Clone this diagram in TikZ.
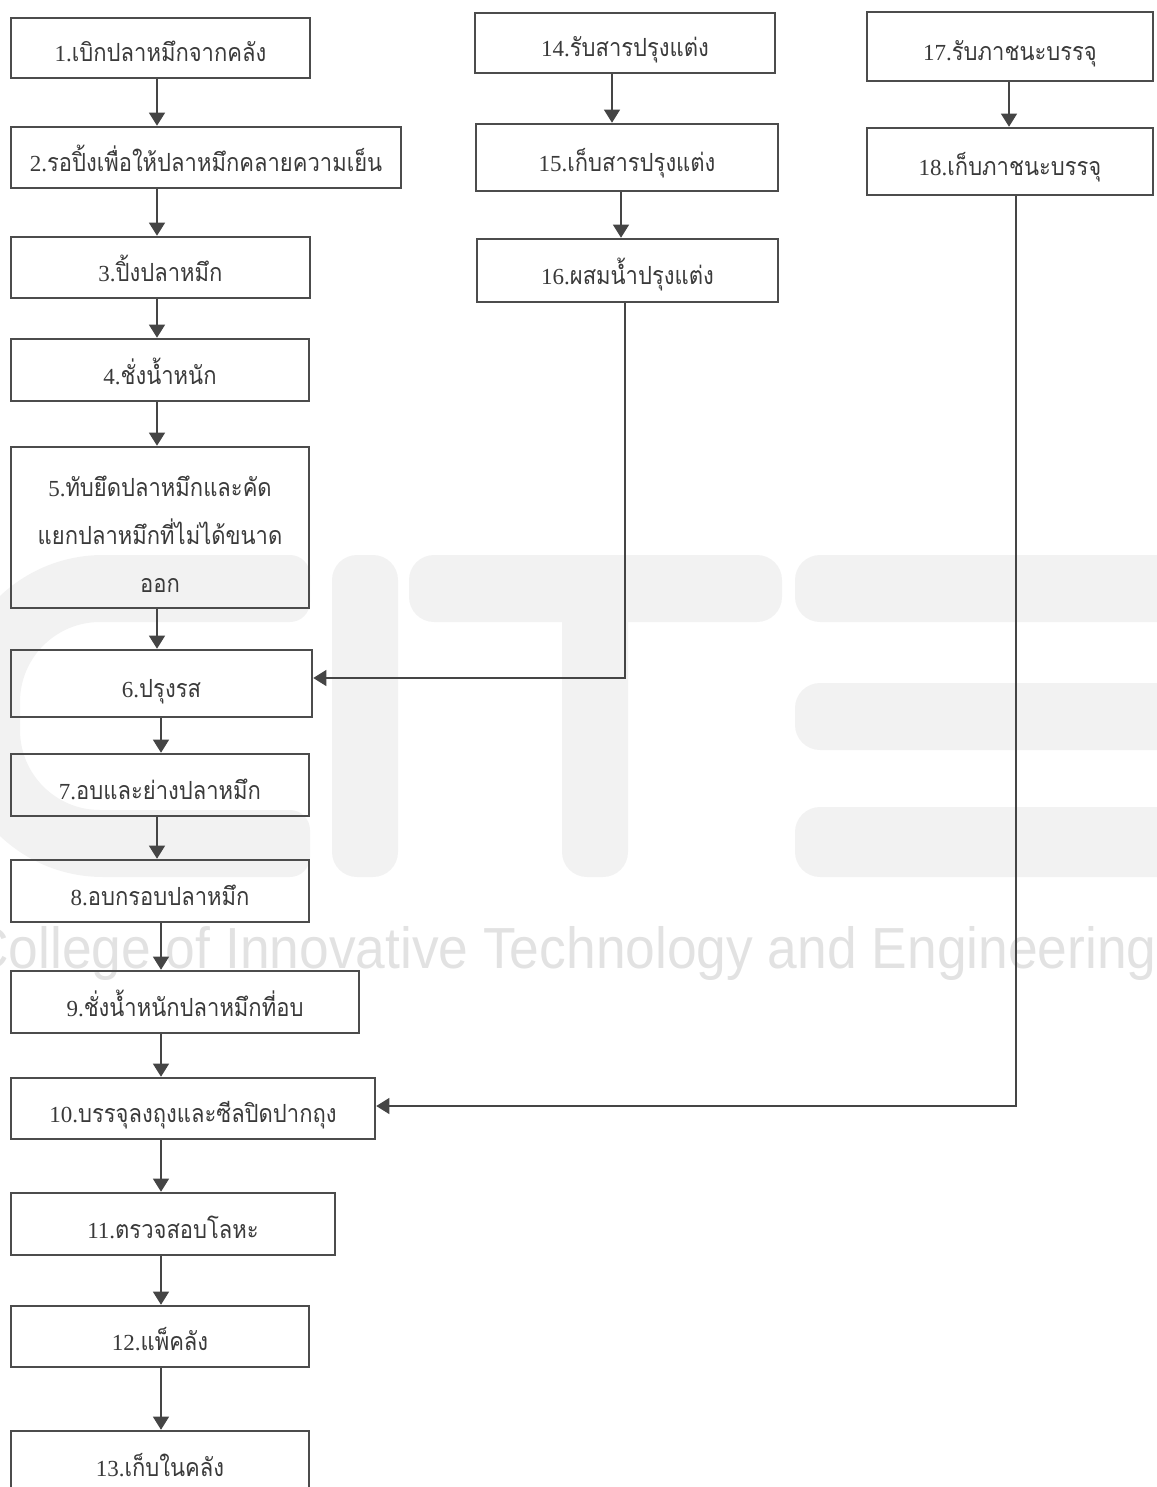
\documentclass[tikz,border=0pt]{standalone}
\usepackage{fontspec}
\setmainfont{Liberation Serif}
\newfontfamily\thaifont[Script=Thai, FakeStretch=0.88]{Loma}
\newfontfamily\wmfont[FakeStretch=0.92]{Liberation Sans}
\usetikzlibrary{arrows.meta}
\definecolor{boxgray}{HTML}{4C4C4C}
\definecolor{inkgray}{HTML}{3A3A3A}
\definecolor{arrowgray}{HTML}{454545}
\definecolor{logogray}{HTML}{F2F2F2}
\definecolor{wmgray}{HTML}{E2E2E2}
\newcommand\steplabel[2]{{\fontsize{23}{26}\selectfont #1}{\thaifont\fontsize{25}{26}\selectfont #2}}
\newcommand\thline[1]{{\thaifont\fontsize{25}{26}\selectfont #1}}

\begin{document}
\begin{tikzpicture}[x=1pt,y=-1pt,
  flow/.style={draw=boxgray, line width=2.6pt, inner sep=0pt, text=inkgray,
               align=center, font=\fontsize{23}{26}\selectfont},
  oneline/.style={flow, text height=28pt, text depth=0pt},
  arr/.style={draw=arrowgray, line width=1.1pt, -{Triangle[width=16pt,length=13pt]}}]
\useasboundingbox (0,0) rectangle (1156,1487);

% background logo: C I T E
\fill[logogray] (310,555) [rounded corners=150pt] -- (-47,555) -- (-47,877)
  [rounded corners=20pt] -- (310,877) -- (310,810)
  [rounded corners=80pt] -- (20,810) -- (20,622)
  [rounded corners=20pt] -- (310,622) -- cycle;
\fill[logogray, rounded corners=25pt] (332,555) rectangle (398,877);
\fill[logogray, rounded corners=25pt] (409,555) rectangle (782,622);
\fill[logogray, rounded corners=25pt] (562,580) rectangle (628,877);
\fill[logogray, rounded corners=25pt] (795,555) rectangle (1200,622);
\fill[logogray, rounded corners=25pt] (795,683) rectangle (1200,750);
\fill[logogray, rounded corners=25pt] (795,807) rectangle (1200,877);
\node[anchor=base west, inner sep=0pt, text=wmgray, font=\wmfont\fontsize{58}{58}\selectfont]
  (wm) at (-30,968) {College of Innovative Technology and Engineering};

% main process column
\node[oneline, minimum width=299pt, minimum height=60pt] (n1) at (160.5,48) {\steplabel{1.}{เบิกปลาหมึกจากคลัง}};
\node[oneline, minimum width=390pt, minimum height=61pt] (n2) at (206,157.5) {\steplabel{2.}{รอปิ้งเพื่อให้ปลาหมึกคลายความเย็น}};
\node[oneline, minimum width=299pt, minimum height=61pt] (n3) at (160.5,267.5) {\steplabel{3.}{ปิ้งปลาหมึก}};
\node[oneline, minimum width=298pt, minimum height=62pt] (n4) at (160,370) {\steplabel{4.}{ชั่งน้ำหนัก}};
\node[flow, minimum width=298pt, minimum height=161pt, font=\fontsize{23}{48}\selectfont] (n5) at (160,527.5)
  {\rule{0pt}{34pt}\steplabel{5.}{ทับยึดปลาหมึกและคัด}\\\thline{แยกปลาหมึกที่ไม่ได้ขนาด}\\\thline{ออก}};
\node[oneline, minimum width=301pt, minimum height=67pt] (n6) at (161.5,683.5) {\steplabel{6.}{ปรุงรส}};
\node[oneline, minimum width=298pt, minimum height=62pt] (n7) at (160,785) {\steplabel{7.}{อบและย่างปลาหมึก}};
\node[oneline, minimum width=298pt, minimum height=62pt] (n8) at (160,891) {\steplabel{8.}{อบกรอบปลาหมึก}};
\node[oneline, minimum width=348pt, minimum height=62pt] (n9) at (185,1002) {\steplabel{9.}{ชั่งน้ำหนักปลาหมึกที่อบ}};
\node[oneline, minimum width=364pt, minimum height=61pt] (n10) at (193,1108.5) {\steplabel{10.}{บรรจุลงถุงและซีลปิดปากถุง}};
\node[oneline, minimum width=324pt, minimum height=62pt] (n11) at (173,1224) {\steplabel{11.}{ตรวจสอบโลหะ}};
\node[oneline, minimum width=298pt, minimum height=61pt] (n12) at (160,1336.5) {\steplabel{12.}{แพ็คลัง}};
\node[oneline, minimum width=298pt, minimum height=62pt] (n13) at (160,1462) {\steplabel{13.}{เก็บในคลัง}};

% seasoning column
\node[oneline, minimum width=300pt, minimum height=60pt] (n14) at (625,43) {\steplabel{14.}{รับสารปรุงแต่ง}};
\node[oneline, minimum width=302pt, minimum height=67pt] (n15) at (627,157.5) {\steplabel{15.}{เก็บสารปรุงแต่ง}};
\node[oneline, minimum width=301pt, minimum height=63pt] (n16) at (627.5,270.5) {\steplabel{16.}{ผสมน้ำปรุงแต่ง}};

% packaging column
\node[oneline, minimum width=286pt, minimum height=69pt] (n17) at (1010,46.5) {\steplabel{17.}{รับภาชนะบรรจุ}};
\node[oneline, minimum width=286pt, minimum height=67pt] (n18) at (1010,161.5) {\steplabel{18.}{เก็บภาชนะบรรจุ}};

% connector spines
\coordinate (spA) at (157,0);
\coordinate (spB) at (161,0);
\coordinate (sp14) at (612,0);
\coordinate (sp15) at (621,0);
\coordinate (sp16) at (625,0);
\coordinate (sp17) at (1009,0);
\coordinate (sp18) at (1016,0);

\draw[arr] (n1.south -| spA) -- (n2.north -| spA);
\draw[arr] (n2.south -| spA) -- (n3.north -| spA);
\draw[arr] (n3.south -| spA) -- (n4.north -| spA);
\draw[arr] (n4.south -| spA) -- (n5.north -| spA);
\draw[arr] (n5.south -| spA) -- (n6.north -| spA);
\draw[arr] (n6.south -| spB) -- (n7.north -| spB);
\draw[arr] (n7.south -| spA) -- (n8.north -| spA);
\draw[arr] (n8.south -| spB) -- (n9.north -| spB);
\draw[arr] (n9.south -| spB) -- (n10.north -| spB);
\draw[arr] (n10.south -| spB) -- (n11.north -| spB);
\draw[arr] (n11.south -| spB) -- (n12.north -| spB);
\draw[arr] (n12.south -| spB) -- (n13.north -| spB);

\draw[arr] (n14.south -| sp14) -- (n15.north -| sp14);
\draw[arr] (n15.south -| sp15) -- (n16.north -| sp15);
\draw[arr] (n17.south -| sp17) -- (n18.north -| sp17);

\coordinate (in6) at ([yshift=5.5pt]n6.east);
\coordinate (in10) at ([yshift=2.5pt]n10.east);
\draw[arr] (n16.south -| sp16) |- (in6);
\draw[arr] (n18.south -| sp18) |- (in10);
\end{tikzpicture}
\end{document}
